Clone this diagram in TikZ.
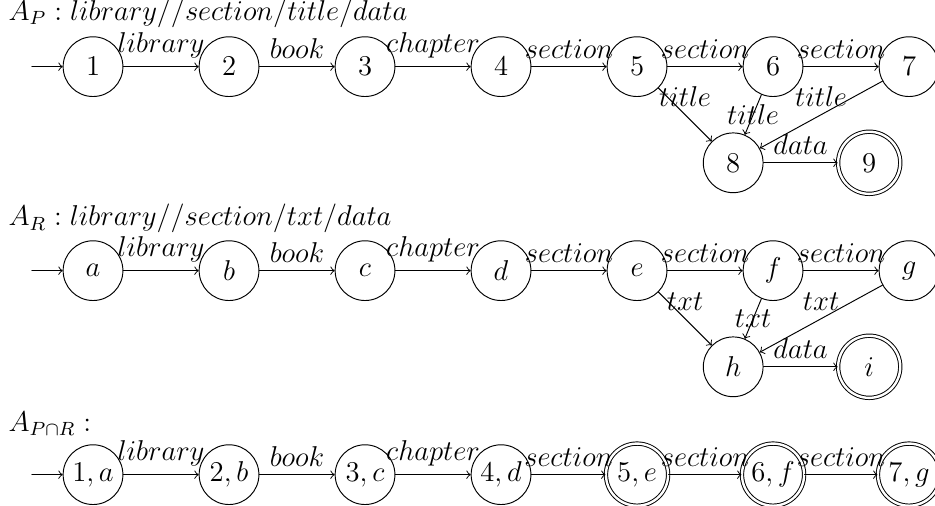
\documentclass[tikz,border=0pt]{standalone}
\usepackage{amsmath,amssymb}
\usepackage{tikz}
\usetikzlibrary{arrows.meta}

\begin{document}
\begin{tikzpicture}[line cap=round,line join=round,>=to,x=1cm,y=1cm,
    every node/.style={font=\fontsize{11.5}{14}\selectfont},
    st/.style={draw,circle,line width=0.4pt,minimum size=25pt,inner sep=0pt},
    acc/.style={st,double,double distance=1pt,minimum size=26pt},
    ttl/.style={anchor=base west,inner sep=0pt},
    lbl/.style={above}]
    \useasboundingbox (-1.368,0.98) rectangle (12.382,-6.46);
    % automaton for P
    \node[ttl] (tp) at (-1.25,0.68) {$A_P : library//section/title/data$};
    \coordinate (sp) at (-0.9,0);
    \node[st] (p1) at (0,0) {$1$};
    \node[st] (p2) at (2,0) {$2$};
    \node[st] (p3) at (4,0) {$3$};
    \node[st] (p4) at (6,0) {$4$};
    \node[st] (p5) at (8,0) {$5$};
    \node[st] (p6) at (10,0) {$6$};
    \node[st] (p7) at (12,0) {$7$};
    \node[st] (p8) at (9.414,-1.414) {$8$};
    \node[acc] (p9) at (11.414,-1.414) {$9$};
    \draw [->] (sp) -- (p1);
    \draw [->] (p1) -- node[lbl] {$library$} (p2);
    \draw [->] (p2) -- node[lbl] {$book$} (p3);
    \draw [->] (p3) -- node[lbl] {$chapter$} (p4);
    \draw [->] (p4) -- node[lbl] {$section$} (p5);
    \draw [->] (p5) -- node[lbl] {$section$} (p6);
    \draw [->] (p6) -- node[lbl] {$section$} (p7);
    \draw [->] (p5) -- node[lbl] {$title$} (p8);
    \draw [->] (p6) -- node {$title$} (p8);
    \draw [->] (p7) -- node[lbl] {$title$} (p8);
    \draw [->] (p8) -- node[lbl] {$data$} (p9);
    % automaton for R
    \node[ttl] (tr) at (-1.25,-2.34) {$A_R : library//section/txt/data$};
    \coordinate (sr) at (-0.9,-3);
    \node[st] (ra) at (0,-3) {$a$};
    \node[st] (rb) at (2,-3) {$b$};
    \node[st] (rc) at (4,-3) {$c$};
    \node[st] (rd) at (6,-3) {$d$};
    \node[st] (re) at (8,-3) {$e$};
    \node[st] (rf) at (10,-3) {$f$};
    \node[st] (rg) at (12,-3) {$g$};
    \node[st] (rh) at (9.414,-4.414) {$h$};
    \node[acc] (ri) at (11.414,-4.414) {$i$};
    \draw [->] (sr) -- (ra);
    \draw [->] (ra) -- node[lbl] {$library$} (rb);
    \draw [->] (rb) -- node[lbl] {$book$} (rc);
    \draw [->] (rc) -- node[lbl] {$chapter$} (rd);
    \draw [->] (rd) -- node[lbl] {$section$} (re);
    \draw [->] (re) -- node[lbl] {$section$} (rf);
    \draw [->] (rf) -- node[lbl] {$section$} (rg);
    \draw [->] (re) -- node[lbl] {$txt$} (rh);
    \draw [->] (rf) -- node {$txt$} (rh);
    \draw [->] (rg) -- node[lbl] {$txt$} (rh);
    \draw [->] (rh) -- node[lbl] {$data$} (ri);
    % product automaton
    \node[ttl] (tq) at (-1.25,-5.36) {$A_{P\cap R} :$};
    \coordinate (sq) at (-0.9,-6);
    \node[st] (q1) at (0,-6) {$1,a$};
    \node[st] (q2) at (2,-6) {$2,b$};
    \node[st] (q3) at (4,-6) {$3,c$};
    \node[st] (q4) at (6,-6) {$4,d$};
    \node[acc] (q5) at (8,-6) {$5,e$};
    \node[acc] (q6) at (10,-6) {$6,f$};
    \node[acc] (q7) at (12,-6) {$7,g$};
    \draw [->] (sq) -- (q1);
    \draw [->] (q1) -- node[lbl] {$library$} (q2);
    \draw [->] (q2) -- node[lbl] {$book$} (q3);
    \draw [->] (q3) -- node[lbl] {$chapter$} (q4);
    \draw [->] (q4) -- node[lbl] {$section$} (q5);
    \draw [->] (q5) -- node[lbl] {$section$} (q6);
    \draw [->] (q6) -- node[lbl] {$section$} (q7);
\end{tikzpicture}
\end{document}
